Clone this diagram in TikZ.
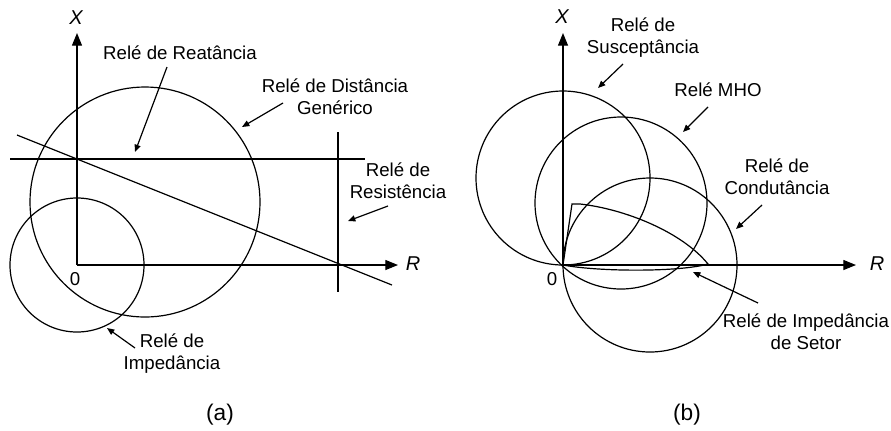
\documentclass[tikz,border=0pt]{standalone}
\usepackage{fontspec}
\setmainfont{Liberation Sans}
\usetikzlibrary{arrows.meta}

\begin{document}
\begin{tikzpicture}[x=0.75pt, y=-0.75pt,
        curve/.style={line width=0.9pt},
        axis/.style={line width=0.9pt, -{Triangle[length=9.5pt,width=7.5pt]}},
        arr/.style={line width=0.9pt, -{Triangle[length=5.5pt,width=4.5pt]}},
        lbl/.style={font=\fontsize{14}{16.5}\selectfont, align=center, inner sep=0pt},
        axlbl/.style={font=\fontsize{15}{18}\selectfont\itshape, inner sep=0pt},
        numlbl/.style={font=\fontsize{14}{16.5}\selectfont, inner sep=0pt},
        sublbl/.style={font=\fontsize{17}{20}\selectfont, inner sep=0pt}]
      \useasboundingbox (0,0) rectangle (891,430);

      % (a)
      \coordinate (oa) at (77,265);
      \draw[axis] (oa) -- (77,33) coordinate (xa);
      \draw[axis] (oa) -- (398,265) coordinate (ra);
      \node[axlbl] (xalbl) at (76,18) {X};
      \node[axlbl] (ralbl) at (413,264) {R};
      \node[numlbl] (zeroa) at (75,279) {0};

      \draw[curve] (145,202) circle[radius=115];
      \draw[curve] (oa) circle[radius=67];
      \draw[curve] (10,159) -- (365,159);
      \draw[curve] (17,135) -- (392,285);
      \draw[curve] (338,132) -- (338,292);

      \node[lbl] (reat) at (180,53) {Relé de Reatância};
      \node[lbl] (dist) at (335,97) {Relé de Distância\\Genérico};
      \node[lbl] (resi) at (398,181) {Relé de\\Resistência};
      \node[lbl] (imped) at (172,354) {Relé de\\Impedância};
      \node (lbla) at (220,415) [sublbl] {(a)};

      \coordinate (reattip) at (135,152);
      \coordinate (disttip) at (242,127);
      \coordinate (resitip) at (348,221);
      \coordinate (impedtip) at (107,328);
      \draw[arr] (167,67) coordinate (reattail) -- (reattip);
      \draw[arr] (283,103) coordinate (disttail) -- (disttip);
      \draw[arr] (388,206) coordinate (resitail) -- (resitip);
      \draw[arr] (135,348) coordinate (impedtail) -- (impedtip);

      % (b)
      \coordinate (ob) at (563,265);
      \draw[axis] (ob) -- (563,33) coordinate (xb);
      \draw[axis] (ob) -- (856,265) coordinate (rb);
      \node[axlbl] (xblbl) at (562,17) {X};
      \node[axlbl] (rblbl) at (877,264) {R};
      \node[numlbl] (zerob) at (552,279) {0};

      \draw[curve] (563,178) circle[radius=87];
      \draw[curve] (621,203) circle[radius=86];
      \draw[curve] (650,265) circle[radius=87];
      \draw[curve] (ob) -- (572,204) -- (580,204) .. controls (625,209) and (682,232) .. (708,264)
                 .. controls (680,272) and (600,272) .. (ob);

      \node[lbl] (susc) at (643,38) {Relé de\\Susceptância};
      \node[lbl] (mho) at (718,90) {Relé MHO};
      \node[lbl] (cond) at (777,177) {Relé de\\Condutância};
      \node[lbl] (setor) at (806,332) {Relé de Impedância\\de Setor};
      \node (lblb) at (687,415) [sublbl] {(b)};

      \coordinate (susctip) at (598,88);
      \coordinate (mhotip) at (683,132);
      \coordinate (condtip) at (736,229);
      \coordinate (setortip) at (693,272);
      \draw[arr] (623,64) coordinate (susctail) -- (susctip);
      \draw[arr] (708,107) coordinate (mhotail) -- (mhotip);
      \draw[arr] (762,205) coordinate (condtail) -- (condtip);
      \draw[arr] (758,303) coordinate (setortail) -- (setortip);
    \end{tikzpicture}
\end{document}
